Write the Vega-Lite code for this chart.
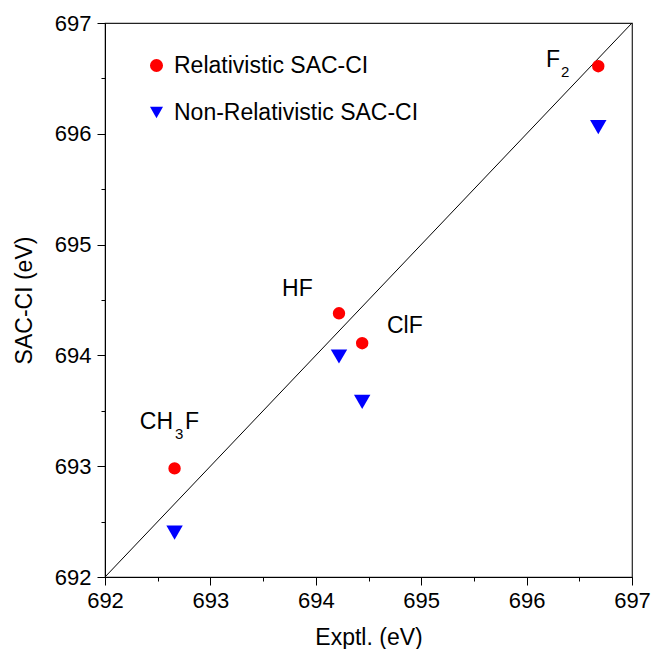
{
  "$schema": "https://vega.github.io/schema/vega-lite/v6.json",
  "autosize": {"type": "none"},
  "width": 527,
  "height": 554,
  "padding": {"left": 105, "top": 23, "right": 20, "bottom": 72},
  "background": "white",
  "config": {
    "font": "Liberation Sans",
    "view": {"stroke": "#222", "strokeWidth": 1.2},
    "axis": {"grid": false, "domainColor": "#000", "tickColor": "#000", "labelColor": "#000", "titleColor": "#000", "titleFontWeight": "normal", "labelFont": "Liberation Sans", "titleFont": "Liberation Sans"}
  },
  "datasets": {
    "diag": [{"x": 692, "y": 692}, {"x": 697, "y": 697}],
    "pts": [
      {"molecule": "CH3F", "expt": 692.66, "calc": 692.98, "series": "Relativistic SAC-CI"},
      {"molecule": "HF", "expt": 694.22, "calc": 694.38, "series": "Relativistic SAC-CI"},
      {"molecule": "ClF", "expt": 694.44, "calc": 694.11, "series": "Relativistic SAC-CI"},
      {"molecule": "F2", "expt": 696.68, "calc": 696.61, "series": "Relativistic SAC-CI"},
      {"molecule": "CH3F", "expt": 692.66, "calc": 692.40, "series": "Non-Relativistic SAC-CI"},
      {"molecule": "HF", "expt": 694.22, "calc": 693.99, "series": "Non-Relativistic SAC-CI"},
      {"molecule": "ClF", "expt": 694.44, "calc": 693.58, "series": "Non-Relativistic SAC-CI"},
      {"molecule": "F2", "expt": 696.68, "calc": 696.06, "series": "Non-Relativistic SAC-CI"}
    ],
    "labels": [
      {"t": "CH", "x": 692.33, "y": 693.336, "role": "main"},
      {"t": "3", "x": 692.664, "y": 693.245, "role": "sub"},
      {"t": "F", "x": 692.759, "y": 693.336, "role": "main"},
      {"t": "HF", "x": 693.68, "y": 694.536, "role": "main"},
      {"t": "ClF", "x": 694.675, "y": 694.202, "role": "main"},
      {"t": "F", "x": 696.184, "y": 696.603, "role": "main"},
      {"t": "2", "x": 696.326, "y": 696.513, "role": "sub"}
    ]
  },
  "layer": [
    {
      "data": {"name": "diag"},
      "mark": {"type": "line", "color": "#000", "strokeWidth": 1},
      "encoding": {
        "x": {"field": "x", "type": "quantitative", "scale": {"domain": [692, 697], "nice": false, "zero": false},
          "axis": {"orient": "bottom", "values": [692, 693, 694, 695, 696, 697], "tickSize": 8, "labelFontSize": 22, "labelPadding": 5, "title": "Exptl. (eV)", "titleFontSize": 23, "titlePadding": 15, "format": "d", "labelFlush": false}},
        "y": {"field": "y", "type": "quantitative", "scale": {"domain": [692, 697], "nice": false, "zero": false},
          "axis": {"orient": "left", "values": [692, 693, 694, 695, 696, 697], "tickSize": 8, "labelFontSize": 22, "labelPadding": 6, "title": "SAC-CI (eV)", "titleFontSize": 23, "titlePadding": 18, "format": "d", "labelFlush": false}}
      }
    },
    {
      "data": {"name": "pts"},
      "mark": {"type": "point", "filled": true, "opacity": 1},
      "encoding": {
        "x": {"field": "expt", "type": "quantitative",
          "axis": {"orient": "bottom", "values": [692.5, 693.5, 694.5, 695.5, 696.5], "tickSize": 4, "labels": false, "domain": false, "title": null}},
        "y": {"field": "calc", "type": "quantitative",
          "axis": {"orient": "left", "values": [692.5, 693.5, 694.5, 695.5, 696.5], "tickSize": 4, "labels": false, "domain": false, "title": null}},
        "color": {"field": "series", "type": "nominal",
          "scale": {"domain": ["Relativistic SAC-CI", "Non-Relativistic SAC-CI"], "range": ["#ff0000", "#0000ff"]},
          "legend": {"title": null, "orient": "none", "legendX": 40, "legendY": 31, "labelFontSize": 23, "labelFont": "Liberation Sans", "labelColor": "#000", "labelOffset": 6, "labelLimit": 0, "rowPadding": 23, "symbolSize": 170, "padding": 0}},
        "shape": {"field": "series", "type": "nominal",
          "scale": {"domain": ["Relativistic SAC-CI", "Non-Relativistic SAC-CI"], "range": ["circle", "triangle-down"]}},
        "size": {"field": "series", "type": "nominal",
          "scale": {"domain": ["Relativistic SAC-CI", "Non-Relativistic SAC-CI"], "range": [154, 270]}, "legend": null}
      }
    },
    {
      "data": {"name": "labels"},
      "mark": {"type": "text", "align": "left", "baseline": "alphabetic", "color": "#000", "font": "Liberation Sans"},
      "encoding": {
        "x": {"field": "x", "type": "quantitative", "axis": null},
        "y": {"field": "y", "type": "quantitative", "axis": null},
        "text": {"field": "t"},
        "size": {"field": "role", "type": "nominal", "scale": {"domain": ["main", "sub"], "range": [23, 15]}, "legend": null}
      }
    }
  ],
  "resolve": {"axis": {"x": "independent", "y": "independent"}, "scale": {"size": "independent"}, "legend": {"size": "independent"}}
}
